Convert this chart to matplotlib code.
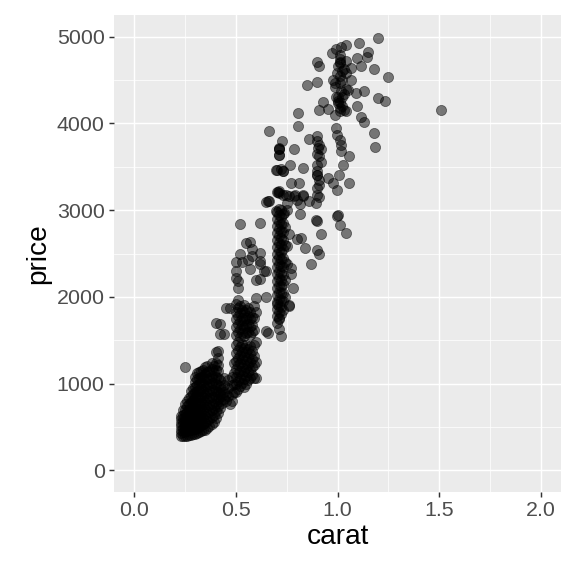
import numpy as np
import matplotlib
matplotlib.use("Agg")
import matplotlib.pyplot as plt
from matplotlib.ticker import MultipleLocator

plt.rcParams['font.family'] = ['Liberation Sans', 'DejaVu Sans']

# small stones, 0.23 - 0.49 carat
small_carat = ([0.23] * 7 + [0.24] * 7 + [0.25] * 8 + [0.26] * 8 + [0.27] * 8
               + [0.28] * 9 + [0.29] * 9 + [0.30] * 12 + [0.31] * 11 + [0.32] * 11
               + [0.33] * 11 + [0.34] * 10 + [0.35] * 10 + [0.36] * 10 + [0.37] * 9
               + [0.38] * 10 + [0.39] * 9 + [0.40] * 10 + [0.41] * 9 + [0.42] * 5
               + [0.43] * 3 + [0.44] * 4 + [0.45] * 2 + [0.46] * 3 + [0.48] * 4
               + [0.49] * 4 + [0.47, 0.25])
small_price = [390, 430, 470, 510, 550, 590, 630,
               395, 440, 490, 540, 590, 640, 690,
               400, 450, 500, 550, 600, 650, 700, 760,
               400, 450, 500, 560, 620, 680, 740, 800,
               405, 460, 520, 580, 640, 700, 760, 830,
               410, 470, 530, 590, 650, 720, 790, 860, 920,
               415, 480, 540, 600, 670, 740, 810, 880, 950,
               420, 480, 540, 600, 660, 720, 780, 840, 900, 960, 1020, 1080,
               430, 490, 560, 630, 700, 770, 840, 910, 980, 1050, 1120,
               440, 500, 570, 640, 710, 780, 850, 920, 990, 1060, 1130,
               450, 520, 590, 660, 730, 800, 870, 940, 1010, 1080, 1150,
               460, 530, 600, 680, 760, 840, 920, 1000, 1080, 1160,
               470, 550, 630, 710, 790, 870, 950, 1030, 1110, 1190,
               490, 570, 650, 730, 810, 890, 970, 1050, 1130, 1200,
               510, 590, 670, 750, 830, 910, 990, 1070, 1150,
               530, 610, 690, 770, 850, 930, 1010, 1090, 1170, 1240,
               560, 640, 720, 800, 880, 960, 1040, 1120, 1200,
               600, 680, 760, 840, 920, 1000, 1080, 1160, 1240, 1360,
               660, 740, 820, 900, 980, 1060, 1140, 1220, 1300,
               720, 800, 880, 960, 1040,
               780, 860, 940,
               820, 900, 980, 1060,
               800, 880,
               860, 950, 1040,
               804, 880, 980, 1080,
               900, 1000, 1120, 1240,
               766, 1195]

# half carat stones, 0.50 - 0.60
half_carat = ([0.50] * 14 + [0.51] * 13 + [0.52] * 12 + [0.53] * 11 + [0.54] * 11
              + [0.55] * 11 + [0.56] * 10 + [0.57] * 10 + [0.58] * 9 + [0.59] * 7
              + [0.60] * 6)
half_price = [900, 990, 1080, 1170, 1260, 1350, 1440, 1560, 1650, 1740, 1830, 1920,
              2220, 2300,
              940, 1030, 1120, 1210, 1300, 1390, 1480, 1600, 1690, 1780, 1870, 1960,
              2107,
              970, 1060, 1150, 1240, 1330, 1420, 1540, 1630, 1720, 1810, 1900, 2840,
              1010, 1100, 1190, 1280, 1370, 1460, 1580, 1670, 1760, 1850, 2400,
              960, 1050, 1140, 1230, 1320, 1410, 1550, 1640, 1730, 1820, 1910,
              1000, 1090, 1180, 1270, 1360, 1450, 1580, 1670, 1760, 1850, 2625,
              1040, 1130, 1220, 1310, 1400, 1600, 1690, 1780, 1870, 2430,
              1070, 1160, 1250, 1340, 1430, 1560, 1650, 1740, 1830, 2318,
              1100, 1190, 1280, 1380, 1590, 1680, 1770, 2548, 2470,
              1060, 1220, 1320, 1450, 1620, 1760, 1900,
              1070, 1250, 1480, 1820, 1990, 2200]

# scattered stones between the clusters
mid_carat = [0.62, 0.62, 0.62, 0.62, 0.62, 0.64, 0.65, 0.65, 0.65, 0.66, 0.45,
             0.42, 0.40, 0.42, 0.44, 0.47, 0.41, 0.52, 0.57, 0.50, 0.51]
mid_price = [2510, 2375, 2854, 2414, 2203, 2300, 2000, 1610, 2299, 1582, 1877,
             1686, 1693, 1571, 1571, 1877, 1379, 2490, 2630, 2400, 2184]

# around 0.7 carat
seven_carat = ([0.70] * 17 + [0.71] * 18 + [0.72] * 16 + [0.73] * 12 + [0.74] * 5
               + [0.70, 0.70, 0.71, 0.71, 0.71, 0.71, 0.71, 0.72, 0.73, 0.70, 0.72]
               + [0.76, 0.76, 0.75, 0.75, 0.77, 0.77, 0.78, 0.75, 0.76,
                  0.80, 0.82, 0.84, 0.87, 0.90, 0.91, 0.92, 0.90, 1.00, 1.01,
                  1.04, 0.65, 0.66, 0.71, 0.73, 0.76, 0.79, 0.83, 0.80, 0.75])
seven_price = [1700, 1780, 1860, 1940, 2020, 2100, 2180, 2260, 2340, 2420, 2500,
               2580, 2660, 2740, 2820, 2900, 2980,
               1740, 1820, 1900, 1980, 2060, 2140, 2220, 2300, 2380, 2460, 2540,
               2620, 2700, 2780, 2860, 2940, 3010, 1760,
               1800, 1880, 1960, 2040, 2120, 2200, 2280, 2360, 2440, 2520, 2600,
               2680, 2760, 2840, 2920, 3000,
               1850, 1950, 2050, 2150, 2250, 2350, 2450, 2550, 2650, 2750, 2850,
               2950,
               2000, 2200, 2400, 2600, 2800,
               3468, 3211, 3200, 3700, 3720, 3640, 1628, 3470, 3450, 1916, 1552,
               1908, 1896, 2375, 3004, 2260, 2337, 2107, 2586, 2720,
               2663, 2682, 2567, 2375, 2536, 2500, 2720, 2880, 2942, 2827,
               2739, 3096, 3100, 3218, 3180, 3161, 3180, 3161, 3120, 3080]

# one carat and up
big_carat = [1.199, 1.108, 1.042, 1.018, 0.993, 0.974, 1.010, 1.149, 1.146, 1.097,
             1.116, 1.067, 1.042, 1.010, 0.900, 0.911, 1.179, 1.248, 0.998, 1.010,
             1.067, 0.849, 0.900, 1.018, 1.089, 1.130, 0.993, 1.010, 1.199, 1.236,
             0.928, 0.911, 0.952, 1.010, 1.042, 1.097, 1.507, 1.116, 1.130, 0.808,
             0.808, 1.179, 1.187, 0.993, 0.998, 1.010, 1.018, 1.018, 1.058, 1.026,
             1.006, 1.058, 0.998, 0.977, 0.952, 0.859, 0.900, 0.903, 0.908, 0.900,
             0.900, 0.908, 0.900, 0.895, 0.829, 0.768, 0.788, 0.727, 0.711, 0.714,
             0.695, 0.731, 0.665, 0.772, 0.810, 0.706, 0.747, 0.788, 0.829, 0.813,
             0.862, 0.698, 0.739, 0.813, 0.895, 0.998, 0.665,
             0.99, 1.01, 1.00, 1.03, 0.99, 1.02, 1.04, 1.00, 1.01,
             1.03, 1.00, 1.02, 1.05, 0.99, 1.01, 1.03,
             1.02, 1.00, 1.04, 0.98, 1.02, 1.01,
             0.90, 0.91, 0.90, 0.92, 0.90, 0.91, 0.90, 0.91, 0.92, 0.90]
big_price = [4981, 4931, 4904, 4885, 4854, 4816, 4789, 4828, 4770, 4759,
             4663, 4636, 4720, 4713, 4713, 4667, 4628, 4533, 4579, 4464,
             4502, 4444, 4483, 4368, 4356, 4375, 4310, 4252, 4291, 4264,
             4252, 4157, 4168, 4138, 4138, 4196, 4157, 4072, 4022, 4119,
             3965, 3889, 3724, 3946, 3870, 3812, 3755, 3678, 3620, 3517,
             3410, 3314, 3237, 3314, 3372, 3823, 3793, 3716, 3620, 3525,
             3410, 3295, 3180, 3084, 3487, 3525, 3705, 3793, 3705, 3640,
             3468, 3448, 3908, 3314, 3314, 3211, 3180, 3161, 3172, 3065,
             3103, 2988, 2969, 2950, 2892, 2938, 3103,
             4100, 4180, 4260, 4340, 4420, 4500, 4580, 4660, 4740,
             4150, 4230, 4310, 4390, 4470, 4550, 4630,
             4200, 4300, 4400, 4500, 4600, 4700,
             3850, 3750, 3650, 3550, 3450, 3350, 3250, 3150, 3700, 3400]

carat = np.array(small_carat + half_carat + mid_carat + seven_carat + big_carat)
price = np.array(small_price + half_price + mid_price + seven_price + big_price)

fig = plt.figure(figsize=(6, 6), dpi=96)
ax = fig.add_axes([114 / 576, 84 / 576, 447 / 576, 477 / 576])
ax.set_facecolor('#EBEBEB')

ax.scatter(carat, price, s=58, c='black', alpha=0.5, linewidths=0.6,
           edgecolors='black', zorder=3)

ax.set_xlim(-0.1, 2.1)
ax.set_ylim(-250, 5250)
ax.xaxis.set_major_locator(MultipleLocator(0.5))
ax.xaxis.set_minor_locator(MultipleLocator(0.25))
ax.yaxis.set_major_locator(MultipleLocator(1000))
ax.yaxis.set_minor_locator(MultipleLocator(500))
ax.xaxis.set_major_formatter(plt.FuncFormatter(lambda v, p: f"{v:.1f}"))
ax.yaxis.set_major_formatter(plt.FuncFormatter(lambda v, p: f"{v:.0f}"))

ax.grid(which='major', color='white', linewidth=1.1, zorder=0)
ax.grid(which='minor', color='white', linewidth=0.55, zorder=0)
ax.set_axisbelow(True)
for s in ax.spines.values():
    s.set_visible(False)

ax.tick_params(which='major', length=4, width=1.1, color='#333333',
               labelcolor='#4D4D4D', labelsize=16, pad=3)
ax.tick_params(which='minor', length=0)

ax.set_xlabel('carat', fontsize=21, color='black', labelpad=3)
ax.set_ylabel('price', fontsize=21, color='black', labelpad=4)

fig.savefig('out.png', dpi=96)
